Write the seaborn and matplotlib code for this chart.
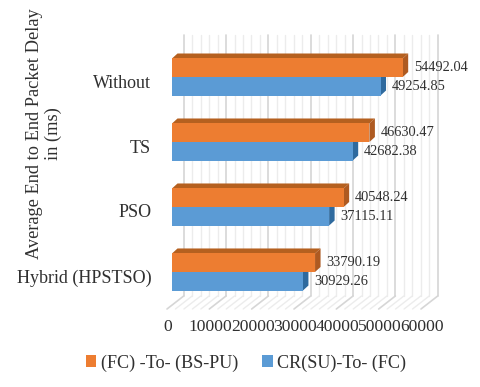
import numpy as np
import pandas as pd
import matplotlib
matplotlib.use("Agg")
import matplotlib.pyplot as plt
from matplotlib.patches import Polygon
from matplotlib.transforms import Affine2D, IdentityTransform
import seaborn as sns

methods = ["Without", "TS", "PSO", "Hybrid (HPSTSO)"]
series_a = "(FC) -To- (BS-PU)"
series_b = "CR(SU)-To- (FC)"
values_a = [54492.04, 46630.47, 40548.24, 33790.19]
values_b = [49254.85, 42682.38, 37115.11, 30929.26]
x_ticks = [0, 10000, 20000, 30000, 40000, 50000, 60000]
minor_step = 2000

COL_A, COL_B = "#ED7D31", "#5B9BD5"
TOP_A, TOP_B = "#B5601F", "#3F76A8"
SIDE_A, SIDE_B = "#AE5A21", "#2F6A9E"

df = pd.DataFrame({
    "method": methods * 2,
    "delay": values_a + values_b,
    "series": [series_a] * 4 + [series_b] * 4,
})

sns.set_theme(style="white")
plt.rcParams["font.family"] = ["Liberation Serif", "DejaVu Serif"]
TXT = "#303030"

W, H = 480, 387
fig = plt.figure(figsize=(W / 100, H / 100), dpi=100, facecolor="white")
ax = fig.add_axes([172 / W, (H - 305) / H, 254 / W, 261 / H])

sns.barplot(data=df, y="method", x="delay", hue="series", order=methods,
            hue_order=[series_a, series_b], palette=[COL_A, COL_B],
            orient="h", width=0.57, gap=0, saturation=1, ax=ax, zorder=3,
            linewidth=0)
ax.set_xlim(0, 60000)
ax.set_ylim(3.508, -0.508)
for s in ax.spines.values():
    s.set_visible(False)
ax.set_xlabel("")
ax.grid(False)

# 3D-look walls: grid drawn on back wall and floor
back = Affine2D().translate(11.7, 9)
front = Affine2D().translate(-5, -4)
xt = ax.get_xaxis_transform()
for v in np.arange(0, x_ticks[-1] + 1, minor_step):
    major = v % x_ticks[1] == 0
    c, lw = ("#D6D6D6", 1.2) if major else ("#ECECEC", 1.0)
    ax.plot([v, v], [0, 1], transform=xt + back, color=c, lw=lw, clip_on=False, zorder=1)
    p0 = (xt + back).transform((v, 0))
    p1 = (xt + front).transform((v, 0))
    ax.plot([p0[0], p1[0]], [p0[1], p1[1]], transform=IdentityTransform(),
            color=c, lw=lw, clip_on=False, zorder=1)

# 3D-look faces derived from the bars themselves
dx, dy = 5.5, 5
fig.canvas.draw()
for cont, top_c, side_c in zip(ax.containers, [TOP_A, TOP_B], [SIDE_A, SIDE_B]):
    for bar in cont:
        x0, y0 = ax.transData.transform((bar.get_x(), bar.get_y() + bar.get_height()))
        x1, y1 = ax.transData.transform((bar.get_x() + bar.get_width(), bar.get_y()))
        ax.add_patch(Polygon([(x0, y1), (x1, y1), (x1 + dx, y1 + dy), (x0 + dx, y1 + dy)],
                             closed=True, facecolor=top_c, edgecolor="none",
                             transform=IdentityTransform(), clip_on=False, zorder=2))
        ax.add_patch(Polygon([(x1, y0), (x1, y1), (x1 + dx, y1 + dy), (x1 + dx, y0 + dy)],
                             closed=True, facecolor=side_c, edgecolor="none",
                             transform=IdentityTransform(), clip_on=False, zorder=2))
    ax.bar_label(cont, fmt="%.2f", padding=8, fontsize=10.4, color=TXT, zorder=4)

ax.set_xticks(x_ticks)
ax.tick_params(axis="x", length=0, pad=10, labelsize=12.6, labelcolor=TXT)
ax.tick_params(axis="y", length=0, pad=15, labelsize=13, labelcolor=TXT)
for lab in ax.get_xticklabels():
    lab.set_transform(lab.get_transform() + Affine2D().translate(-4, 0))
for lab in ax.get_yticklabels():
    lab.set_transform(lab.get_transform() + Affine2D().translate(0, -4))

ax.set_ylabel("Average End to End Packet Delay\nin (ms)", fontsize=13.2, color=TXT,
              linespacing=1.15, va="center", ha="center")
ax.yaxis.set_label_coords(44 / W, (H - 134) / H, transform=fig.transFigure)

handles, labels = ax.get_legend_handles_labels()
ax.legend(handles, labels, ncol=2, frameon=False, loc="center",
          bbox_to_anchor=(246 / W, (H - 363) / H), bbox_transform=fig.transFigure,
          fontsize=13.1, handlelength=0.6, handleheight=0.6, handletextpad=0.25,
          columnspacing=1.3, labelcolor=TXT)

fig.savefig("out.png", dpi=100, facecolor="white")
